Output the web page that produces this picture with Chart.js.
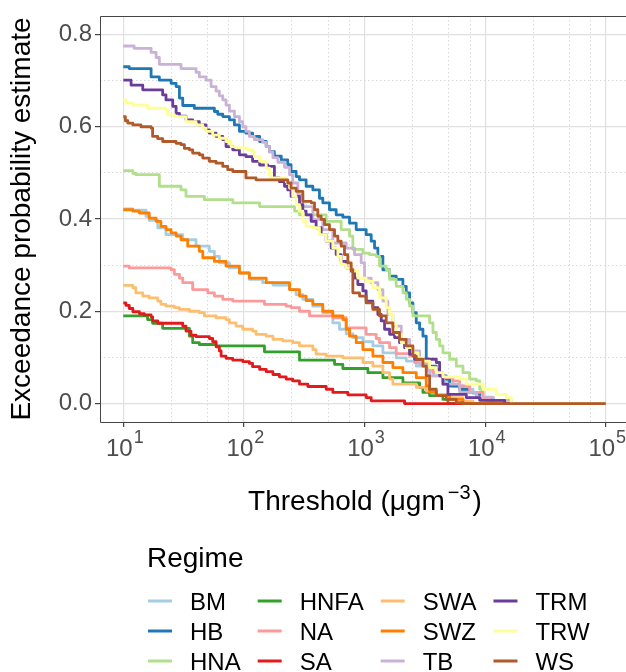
<!DOCTYPE html>
<html>
<head>
<meta charset="utf-8">
<script src="https://cdn.jsdelivr.net/npm/chart.js@4.4.1/dist/chart.umd.min.js"></script>
<style>
  html, body { margin: 0; padding: 0; background: #fff; overflow: hidden; }
  canvas { display: block; }
</style>
</head>
<body>
<canvas id="chart" width="626" height="672"></canvas>
<script>
const FONT = '"Liberation Sans", Arial, sans-serif';

const regimes = ['BM', 'HB', 'HNA', 'HNFA', 'NA', 'SA', 'SWA', 'SWZ', 'TB', 'TRM', 'TRW', 'WS'];
const regimeColours = ['#A6CEE3', '#1F78B4', '#B2DF8A', '#33A02C', '#FB9A99', '#E31A1C',
                       '#FDBF6F', '#FF7F00', '#CAB2D6', '#6A3D9A', '#FFFF99', '#B15928'];

// threshold (ug m-3) where each plateau starts, and the exceedance probability on it
const bmThreshold = [10, 12.0, 15.4, 16.4, 19.3, 22.6, 31.1, 40.1, 51.7, 56.9, 62.6, 75.8, 91.8, 111, 143, 174, 239, 271, 308, 373,
  451, 546, 620, 705, 800, 969, 1173, 1420, 1832, 2218, 2685, 3250, 3692, 4469, 5411, 6550, 7930, 9008, 10230, 100000];
const bmProb = [0.422, 0.419, 0.406, 0.397, 0.381, 0.366, 0.355, 0.341, 0.330, 0.319, 0.305, 0.294, 0.283, 0.269, 0.262, 0.257, 0.247, 0.236, 0.226, 0.211,
  0.197, 0.175, 0.161, 0.151, 0.143, 0.134, 0.125, 0.110, 0.099, 0.092, 0.081, 0.071, 0.060, 0.049, 0.038, 0.031, 0.022, 0.009, 0, 0];

const hbThreshold = [10, 11.2, 17.0, 19.9, 24.9, 27.4, 29.2, 31.1, 38.8, 56.9, 60.7, 66.8, 75.8, 83.4, 91.8, 104, 118, 135, 153, 163,
  179, 204, 231, 246, 271, 289, 328, 373, 423, 451, 512, 582, 661, 751, 853, 1032, 1136, 1211, 1290, 1420,
  1613, 1832, 2081, 2218, 2364, 2519, 2685, 2861, 3050, 3250, 3464, 3935, 4194, 4763, 5077, 6146, 7440, 9008, 11620, 100000];
const hbProb = [0.730, 0.726, 0.708, 0.701, 0.694, 0.687, 0.662, 0.646, 0.640, 0.633, 0.627, 0.622, 0.615, 0.604, 0.590, 0.586, 0.579, 0.568, 0.557, 0.546,
  0.536, 0.528, 0.518, 0.503, 0.492, 0.485, 0.471, 0.463, 0.445, 0.435, 0.420, 0.409, 0.404, 0.391, 0.377, 0.366, 0.352, 0.337, 0.319, 0.290,
  0.276, 0.269, 0.254, 0.240, 0.218, 0.197, 0.175, 0.161, 0.146, 0.096, 0.081, 0.074, 0.060, 0.053, 0.038, 0.031, 0.024, 0.013, 0, 0];

const hnaThreshold = [10, 12.0, 12.7, 19.9, 30.1, 33.1, 47.0, 80.8, 135, 263, 289, 481, 640, 751, 800, 969, 1100, 1250, 1332, 1513,
  1613, 1832, 2081, 2218, 2364, 2519, 3464, 3692, 3935, 4194, 4469, 5077, 5767, 6550, 7440, 8452, 9008, 9600, 10230, 10900, 100000];
const hnaProb = [0.505, 0.499, 0.496, 0.471, 0.463, 0.449, 0.442, 0.435, 0.427, 0.417, 0.409, 0.395, 0.377, 0.363, 0.334, 0.326, 0.323, 0.319, 0.298, 0.290,
  0.269, 0.254, 0.240, 0.226, 0.211, 0.190, 0.175, 0.154, 0.139, 0.125, 0.110, 0.096, 0.081, 0.067, 0.053, 0.049, 0.031, 0.013, 0.006, 0, 0];

const hnfaThreshold = [10, 15.9, 17.5, 21.2, 35.3, 37.6, 42.7, 58.8, 148, 289, 564, 661, 1066, 1420, 2081, 2861, 3050, 3464, 4469, 4917, 100000];
const hnfaProb = [0.190, 0.182, 0.174, 0.163, 0.146, 0.132, 0.128, 0.125, 0.112, 0.094, 0.085, 0.076, 0.067, 0.056, 0.045, 0.035, 0.024, 0.017, 0.009, 0, 0];

const naThreshold = [10, 11.2, 24.9, 26.5, 29.2, 31.1, 37.6, 50.1, 56.9, 66.8, 80.8, 148, 224, 246, 289, 350, 546, 705, 1032, 1250,
  1332, 1613, 1832, 2364, 2601, 3250, 3692, 4469, 5411, 6146, 7440, 9600, 10900, 100000];
const naProb = [0.298, 0.294, 0.290, 0.280, 0.272, 0.262, 0.247, 0.240, 0.233, 0.226, 0.222, 0.215, 0.211, 0.208, 0.200, 0.190, 0.186, 0.164, 0.150, 0.141,
  0.132, 0.121, 0.108, 0.103, 0.089, 0.078, 0.067, 0.056, 0.049, 0.038, 0.024, 0.013, 0, 0];

const saThreshold = [10, 10.5, 11.2, 12.0, 13.6, 14.9, 17.0, 17.5, 19.3, 31.1, 33.1, 36.4, 40.1, 51.7, 55.1, 58.8, 62.6, 64.7, 71.1, 80.8,
  97.8, 111, 118, 135, 153, 174, 197, 224, 254, 289, 339, 481, 546, 727, 1032, 1136, 2148, 100000];
const saProb = [0.218, 0.213, 0.206, 0.199, 0.195, 0.192, 0.188, 0.179, 0.174, 0.168, 0.157, 0.148, 0.145, 0.141, 0.134, 0.123, 0.114, 0.103, 0.098, 0.094,
  0.091, 0.087, 0.080, 0.074, 0.069, 0.063, 0.058, 0.053, 0.049, 0.042, 0.037, 0.031, 0.024, 0.019, 0.013, 0.006, 0, 0];

const swaThreshold = [10, 12.0, 12.7, 14.5, 16.4, 19.3, 20.5, 22.6, 26.5, 29.2, 35.3, 42.7, 47.0, 58.8, 71.1, 75.8, 86.1, 97.8, 118, 126,
  153, 174, 210, 254, 289, 373, 397, 481, 661, 969, 1173, 1420, 1613, 1719, 2685, 3250, 3935, 5077, 6550, 7930, 100000];
const swaProb = [0.256, 0.251, 0.240, 0.233, 0.229, 0.222, 0.215, 0.211, 0.208, 0.204, 0.200, 0.197, 0.190, 0.186, 0.182, 0.175, 0.168, 0.161, 0.157, 0.150,
  0.146, 0.139, 0.136, 0.132, 0.125, 0.117, 0.107, 0.103, 0.099, 0.089, 0.081, 0.067, 0.053, 0.042, 0.035, 0.027, 0.020, 0.013, 0.006, 0, 0];

const swzThreshold = [10, 12.0, 13.6, 16.4, 18.7, 20.5, 22.6, 24.9, 27.4, 30.1, 34.2, 42.7, 45.6, 56.9, 71.1, 91.8, 111, 153, 239, 289,
  328, 373, 451, 546, 661, 705, 751, 853, 969, 1173, 1420, 1719, 2081, 2685, 3250, 3464, 3935, 5077, 6550, 100000];
const swzProb = [0.420, 0.417, 0.413, 0.402, 0.395, 0.384, 0.377, 0.370, 0.363, 0.355, 0.341, 0.330, 0.316, 0.308, 0.298, 0.283, 0.272, 0.262, 0.247, 0.233,
  0.223, 0.215, 0.200, 0.190, 0.182, 0.161, 0.146, 0.132, 0.117, 0.103, 0.089, 0.078, 0.067, 0.056, 0.038, 0.024, 0.017, 0.009, 0, 0];

const tbThreshold = [10, 12.3, 17.0, 18.7, 19.9, 30.1, 40.1, 42.7, 48.5, 53.4, 58.8, 62.6, 66.8, 71.1, 75.8, 83.4, 91.8, 97.8, 104, 111,
  122, 143, 153, 163, 174, 191, 217, 239, 254, 280, 308, 373, 451, 546, 705, 826, 938, 1000, 1136, 1290,
  1420, 1562, 1719, 2016, 2364, 2861, 3464, 4469, 6146, 8452, 11620, 16490, 100000];
const tbProb = [0.775, 0.770, 0.761, 0.750, 0.735, 0.726, 0.718, 0.708, 0.701, 0.687, 0.677, 0.667, 0.658, 0.647, 0.634, 0.622, 0.611, 0.600, 0.590, 0.579,
  0.572, 0.566, 0.557, 0.545, 0.533, 0.523, 0.512, 0.496, 0.478, 0.453, 0.427, 0.399, 0.377, 0.348, 0.337, 0.323, 0.305, 0.272, 0.262, 0.247,
  0.222, 0.193, 0.168, 0.139, 0.114, 0.085, 0.060, 0.042, 0.024, 0.014, 0.007, 0, 0];

const trmThreshold = [10, 11.6, 14.5, 21.2, 22.6, 25.7, 27.4, 29.2, 33.1, 37.6, 42.7, 48.5, 51.7, 58.8, 66.8, 71.1, 80.8, 91.8, 104, 118,
  135, 158, 179, 197, 217, 231, 246, 289, 308, 328, 361, 397, 437, 481, 529, 582, 640, 705, 775, 826,
  880, 969, 1032, 1173, 1290, 1375, 1466, 1613, 1774, 1952, 2148, 2364, 2601, 3935, 4194, 4469, 4917, 6981, 9008, 14520, 100000];
const trmProb = [0.701, 0.690, 0.680, 0.669, 0.658, 0.644, 0.629, 0.623, 0.615, 0.611, 0.604, 0.593, 0.586, 0.579, 0.572, 0.557, 0.550, 0.539, 0.535, 0.525,
  0.517, 0.514, 0.489, 0.481, 0.471, 0.463, 0.449, 0.431, 0.417, 0.409, 0.395, 0.381, 0.366, 0.352, 0.337, 0.323, 0.308, 0.294, 0.287, 0.272,
  0.258, 0.244, 0.222, 0.208, 0.193, 0.179, 0.161, 0.150, 0.143, 0.132, 0.121, 0.107, 0.096, 0.089, 0.060, 0.042, 0.020, 0.013, 0.007, 0, 0];

const trwThreshold = [10, 10.5, 12.0, 15.9, 22.6, 23.3, 26.5, 33.1, 40.1, 45.6, 48.5, 55.1, 62.6, 71.1, 78.3, 86.1, 108, 118, 122, 135,
  153, 163, 168, 224, 239, 254, 271, 289, 308, 328, 373, 423, 481, 546, 601, 640, 705, 800, 880, 1032,
  1173, 1332, 1513, 1613, 1719, 1832, 2016, 2218, 2519, 2772, 3050, 3464, 3935, 4469, 6146, 6981, 9600, 12380, 14990, 16490, 100000];
const trwProb = [0.658, 0.651, 0.647, 0.640, 0.636, 0.626, 0.622, 0.611, 0.604, 0.597, 0.590, 0.582, 0.575, 0.568, 0.557, 0.554, 0.550, 0.546, 0.535, 0.525,
  0.510, 0.496, 0.489, 0.481, 0.467, 0.449, 0.431, 0.417, 0.395, 0.384, 0.381, 0.366, 0.352, 0.337, 0.319, 0.301, 0.294, 0.287, 0.272, 0.265,
  0.251, 0.229, 0.208, 0.193, 0.172, 0.150, 0.132, 0.121, 0.110, 0.099, 0.092, 0.078, 0.067, 0.058, 0.053, 0.042, 0.031, 0.020, 0.013, 0, 0];

const wsThreshold = [10, 10.4, 10.9, 12.0, 14.0, 17.0, 17.5, 19.3, 21.2, 27.4, 30.1, 32.1, 35.3, 37.6, 42.7, 45.6, 51.7, 58.8, 66.8, 73.4,
  80.8, 104, 126, 231, 246, 271, 308, 361, 385, 410, 437, 466, 512, 564, 601, 640, 682, 727, 775, 800,
  909, 1032, 1173, 1332, 1513, 1719, 1952, 2218, 2519, 2685, 3050, 3250, 3464, 3935, 4763, 5767, 6550, 100000];
const wsProb = [0.622, 0.613, 0.608, 0.604, 0.600, 0.597, 0.579, 0.574, 0.568, 0.564, 0.561, 0.553, 0.550, 0.543, 0.539, 0.532, 0.525, 0.521, 0.514, 0.507,
  0.503, 0.489, 0.485, 0.478, 0.467, 0.460, 0.438, 0.435, 0.420, 0.406, 0.399, 0.388, 0.377, 0.363, 0.352, 0.341, 0.323, 0.305, 0.290, 0.240,
  0.233, 0.218, 0.204, 0.190, 0.175, 0.154, 0.139, 0.125, 0.103, 0.096, 0.081, 0.060, 0.031, 0.017, 0.009, 0.002, 0, 0];

const thresholds = [bmThreshold, hbThreshold, hnaThreshold, hnfaThreshold, naThreshold, saThreshold,
                    swaThreshold, swzThreshold, tbThreshold, trmThreshold, trwThreshold, wsThreshold];
const probs = [bmProb, hbProb, hnaProb, hnfaProb, naProb, saProb, swaProb, swzProb, tbProb, trmProb, trwProb, wsProb];

// axis breaks
const xGridValues = [10, 25, 50, 75, 100, 250, 500, 750, 1000, 2500, 5000, 7500, 10000, 25000, 50000, 75000, 100000];
const xMajorValues = [10, 100, 1000, 10000, 100000];
const xTickExponents = ['1', '2', '3', '4', '5'];
const yGridValues = [0, 0.1, 0.2, 0.3, 0.4, 0.5, 0.6, 0.7, 0.8];
const yTickLabels = ['0.0', '', '0.2', '', '0.4', '', '0.6', '', '0.8'];

const isMajorX = v => xMajorValues.includes(v);
const isMajorY = v => Math.round(v * 10) % 2 === 0;

Chart.defaults.font.family = FONT;

const datasets = regimes.map((name, i) => ({
    label: name,
    data: thresholds[i].map((t, k) => ({ x: t, y: probs[i][k] })),
    borderColor: regimeColours[i],
    backgroundColor: regimeColours[i],
    borderWidth: 2.8,
    stepped: true,
    pointRadius: 0,
    fill: false,
    borderJoinStyle: 'round',
    order: regimes.length - 1 - i   // later regimes drawn on top, like ggplot
}));

// dark frame round the panel (right side falls outside the picture)
const panelFrame = {
    id: 'panelFrame',
    afterDatasetsDraw(chart) {
        const { ctx, chartArea: a } = chart;
        ctx.save();
        ctx.strokeStyle = '#444';
        ctx.lineWidth = 1;
        ctx.beginPath();
        ctx.moveTo(a.right, a.top + 0.5);
        ctx.lineTo(a.left + 0.5, a.top + 0.5);
        ctx.lineTo(a.left + 0.5, a.bottom + 0.5);
        ctx.lineTo(a.right, a.bottom + 0.5);
        ctx.stroke();
        ctx.restore();
    }
};

// 10^k tick labels and the x title with its superscript
const xAxisText = {
    id: 'xAxisText',
    afterDraw(chart) {
        const { ctx, scales: { x }, chartArea: a } = chart;
        ctx.save();
        ctx.textBaseline = 'alphabetic';
        ctx.fillStyle = '#4d4d4d';
        xMajorValues.forEach((v, i) => {
            const px = x.getPixelForValue(v);
            ctx.font = `24px ${FONT}`;
            const wBase = ctx.measureText('10').width;
            ctx.font = `18px ${FONT}`;
            const wExp = ctx.measureText(xTickExponents[i]).width;
            const left = px - (wBase + wExp) / 2 + 1;
            ctx.font = `24px ${FONT}`;
            ctx.fillText('10', left, a.bottom + 34);
            ctx.font = `18px ${FONT}`;
            ctx.fillText(xTickExponents[i], left + wBase + 1, a.bottom + 21);
        });

        ctx.fillStyle = '#000';
        const main = 'Threshold (\u03bcgm', sup = '\u22123', close = ')';
        ctx.font = `28px ${FONT}`;
        const w1 = ctx.measureText(main).width, w3 = ctx.measureText(close).width;
        ctx.font = `20px ${FONT}`;
        const w2 = ctx.measureText(sup).width;
        const total = w1 + 3 + w2 + 2 + w3;
        let cx = (a.left + 630) / 2 - total / 2;
        const base = a.bottom + 88;
        ctx.font = `28px ${FONT}`;
        ctx.fillText(main, cx, base);
        cx += w1 + 3;
        ctx.font = `20px ${FONT}`;
        ctx.fillText(sup, cx, base - 11);
        cx += w2 + 2;
        ctx.font = `28px ${FONT}`;
        ctx.fillText(close, cx, base);
        ctx.restore();
    }
};

// ggplot style legend: title, then 3 rows per column, filled column by column
const regimeLegend = {
    id: 'regimeLegend',
    afterDraw(chart) {
        const ctx = chart.ctx;
        const sets = chart.data.datasets;
        const rows = 3, keyW = 24, gap = 18, colGap = 17;
        ctx.save();
        ctx.fillStyle = '#000';
        ctx.textBaseline = 'alphabetic';
        ctx.font = `28px ${FONT}`;
        ctx.fillText('Regime', 147, 567);
        ctx.font = `24px ${FONT}`;
        let x = 148;
        for (let c = 0; c * rows < sets.length; c++) {
            let w = 0;
            sets.slice(c * rows, c * rows + rows).forEach((ds, r) => {
                const y = 601 + r * 30;
                ctx.strokeStyle = ds.borderColor;
                ctx.lineWidth = 3;
                ctx.beginPath();
                ctx.moveTo(x, y);
                ctx.lineTo(x + keyW, y);
                ctx.stroke();
                ctx.fillText(ds.label, x + keyW + gap, y + 9);
                w = Math.max(w, ctx.measureText(ds.label).width);
            });
            x += keyW + gap + w + colGap;
        }
        ctx.restore();
    }
};

new Chart(document.getElementById('chart'), {
    type: 'line',
    data: { datasets },
    options: {
        responsive: false,
        animation: false,
        layout: { padding: { top: 16, right: 0, bottom: 140, left: 0 } },
        plugins: { legend: { display: false }, tooltip: { enabled: false } },
        scales: {
            x: {
                type: 'logarithmic',
                min: 6.41,
                max: 147200,
                afterBuildTicks: s => { s.ticks = xGridValues.map(v => ({ value: v })); },
                afterFit: s => { s.height = 110; s.paddingLeft = 0; s.paddingRight = 0; },
                ticks: { display: false, autoSkip: false },
                grid: {
                    color: c => (c.tick && isMajorX(c.tick.value)) ? '#e0e0e0' : '#dadada',
                    lineWidth: c => (c.tick && isMajorX(c.tick.value)) ? 1.2 : 1,
                    tickLength: 5,
                    tickColor: c => (c.tick && isMajorX(c.tick.value)) ? '#444' : 'rgba(0,0,0,0)'
                },
                border: { display: false, dash: c => (c.tick && !isMajorX(c.tick.value)) ? [1.5, 2.5] : [] }
            },
            y: {
                type: 'linear',
                min: -0.04,
                max: 0.84,
                afterBuildTicks: s => { s.ticks = yGridValues.map(v => ({ value: v })); },
                afterFit: s => { s.width = 100; s.paddingTop = 0; s.paddingBottom = 0; },
                ticks: {
                    autoSkip: false,
                    padding: 3,
                    color: '#4d4d4d',
                    font: { size: 24 },
                    callback: (v, i) => yTickLabels[i]
                },
                grid: {
                    color: c => (c.tick && isMajorY(c.tick.value)) ? '#e0e0e0' : '#dadada',
                    lineWidth: c => (c.tick && isMajorY(c.tick.value)) ? 1.2 : 1,
                    tickLength: 5,
                    tickColor: c => (c.tick && isMajorY(c.tick.value)) ? '#444' : 'rgba(0,0,0,0)'
                },
                border: { display: false, dash: c => (c.tick && !isMajorY(c.tick.value)) ? [1.5, 2.5] : [] },
                title: {
                    display: true,
                    text: 'Exceedance probability estimate',
                    color: '#000',
                    font: { size: 28 },
                    padding: { top: 5, bottom: 0 }
                }
            }
        }
    },
    plugins: [panelFrame, xAxisText, regimeLegend]
});
</script>
</body>
</html>
